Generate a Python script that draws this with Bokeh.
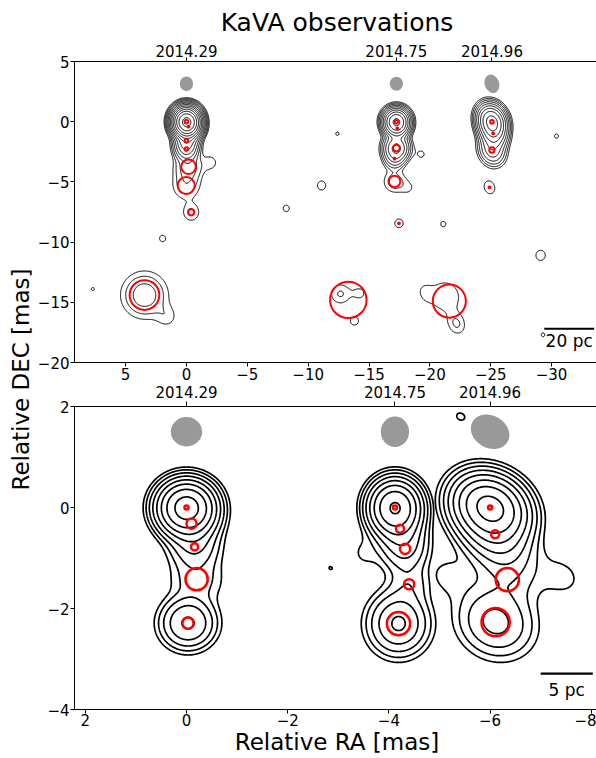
import numpy as np
from bokeh.plotting import figure
from bokeh.layouts import row, column
from bokeh.models import Range1d, FixedTicker, LinearAxis, Label
from bokeh.core.properties import value
from bokeh.embed import file_html
from bokeh.resources import INLINE

FONT = "DejaVu Sans"
epoch_labels = ["2014.29", "2014.75", "2014.96"]

# ---------------- top panel (wide field) ----------------
top_epoch_ra = [0.0, -17.25, -25.1]
top_beam_maj = [1.20, 1.15, 1.55]
top_beam_min = [1.10, 1.10, 1.20]
top_beam_pa = [0.0, 0.0, 20.0]
top_beam_dec = 3.15
top_level_step = 1.8

# model components (RA relative to epoch position), drawn as red circles
top_comp_epoch = [0, 0, 0, 0, 0, 0, 0, 0, 1, 1, 1, 1, 1, 1, 1, 2, 2, 2, 2, 2]
top_comp_ra = [0.00, -0.17, 0.00, 0.00, -0.17, 0.02, -0.39, 3.45,
               0.00, -0.08, 0.00, 0.15, 0.15, -0.21, 3.95,
               0.00, -0.10, 0.00, 0.20, 3.50]
top_comp_dec = [0.00, -0.41, -1.58, -2.27, -3.74, -5.30, -7.53, -14.40,
                0.00, -0.55, -2.19, -3.07, -4.96, -8.44, -14.80,
                0.00, -0.97, -2.35, -5.45, -14.90]
top_comp_amp = [1340, 200, 40, 20, 4.5, 2.6, 2.0, 4.5,
                215, 30, 40, 8, 2.6, 1.3, 0.02,
                141, 40, 15, 1.4, 0.02]
top_comp_size = [0.30, 0.15, 0.30, 0.30, 1.20, 1.40, 0.50, 2.44,
                 0.30, 0.15, 0.56, 0.15, 0.94, 0.15, 3.00,
                 0.30, 0.15, 0.44, 0.15, 2.72]

# additional (unmarked) emission
top_ext_epoch = [0, 0, 1, 1, 1, 1, 2, 2, 2]
top_ext_ra = [-2.0, 1.6, 4.6, 3.0, 3.45, -1.0, 3.8, 2.9, 5.5]
top_ext_dec = [-3.4, -16.2, -14.3, -14.25, -16.55, -5.5, -14.5, -16.8, -14.2]
top_ext_amp = [1.3, 1.3, 1.9, 1.2, 1.25, 1.0, 1.7, 1.9, 1.05]
top_ext_size = [0.5, 1.0, 1.0, 0.3, 0.3, 0.3, 2.0, 0.3, 0.2]

# isolated faint patches (absolute RA)
top_noise_ra = [1.96, -8.2, -11.1, -12.4, -19.3, -21.1, -29.1, -30.4, 7.7, -29.3]
top_noise_dec = [-9.7, -7.2, -5.3, -1.0, -2.7, -8.5, -11.1, -1.2, -13.9, -17.7]
top_noise_amp = [1.15, 1.15, 1.3, 1.04, 1.12, 1.1, 1.4, 1.06, 1.03, 1.05]

# ---------------- bottom panel (zoom) ----------------
bot_epoch_ra = [0.0, -4.12, -6.0]
bot_beam_maj = [0.62, 0.60, 0.80]
bot_beam_min = [0.58, 0.56, 0.64]
bot_beam_pa = [90.0, 0.0, 60.0]
bot_beam_dec = 1.5
bot_level_step = 2.0

bot_comp_epoch = [0, 0, 0, 0, 0, 1, 1, 1, 1, 1, 2, 2, 2, 2]
bot_comp_ra = [0.00, -0.10, -0.16, -0.20, -0.03,
               0.00, -0.10, -0.20, -0.28, -0.07,
               0.00, -0.10, -0.34, -0.11]
bot_comp_dec = [0.00, -0.32, -0.78, -1.42, -2.29,
                0.00, -0.42, -0.82, -1.52, -2.30,
                0.00, -0.53, -1.43, -2.27]
bot_comp_amp = [180, 14, 7, 3.0, 17.5,
                135, 15, 8, 3.0, 17.5,
                150, 20, 2.2, 9.6]
bot_comp_size = [0.08, 0.20, 0.14, 0.44, 0.22,
                 0.08, 0.16, 0.20, 0.20, 0.46,
                 0.08, 0.16, 0.46, 0.56]

bot_ext_epoch = [1, 2, 2, 2, 2]
bot_ext_ra = [0.6, 0.0, -0.3, 0.8, -1.4]
bot_ext_dec = [-0.9, -0.05, -0.95, -1.37, -1.37]
bot_ext_amp = [1.1, 20, 4.0, 1.3, 1.3]
bot_ext_size = [0.2, 0.5, 0.4, 0.3, 0.3]

bot_noise_ra = [-5.42, -2.85]
bot_noise_dec = [1.8, -1.2]
bot_noise_amp = [1.03, 1.005]

# scale bars
top_bar_ra = [-29.4, -33.5]
top_bar_dec = -17.2
top_bar_text = "20 pc"
bot_bar_ra = [-7.0, -8.03]
bot_bar_dec = -3.29
bot_bar_text = "5 pc"

LN = 8.0 * np.log(2.0)


def beam_cov(bmaj, bmin, pa):
    t = np.deg2rad(pa)
    u = np.array([np.sin(t), np.cos(t)])
    v = np.array([np.cos(t), -np.sin(t)])
    return (bmaj ** 2 * np.outer(u, u) + bmin ** 2 * np.outer(v, v)) / LN


def add_gauss(Z, X, Y, x0, y0, amp, size, cov):
    C = cov + (size ** 2 / LN) * np.eye(2)
    Ci = np.linalg.inv(C)
    dx = X - x0
    dy = Y - y0
    Z += amp * np.exp(-0.5 * (Ci[0, 0] * dx * dx + 2 * Ci[0, 1] * dx * dy + Ci[1, 1] * dy * dy))


def style_axis(ax, tick=4, standoff=1):
    ax.axis_line_color = "black"
    ax.axis_line_width = 1
    ax.major_tick_line_color = "black"
    ax.major_tick_out = tick
    ax.major_tick_in = 0
    ax.minor_tick_line_color = None
    ax.major_label_text_font = FONT
    ax.major_label_text_font_size = "15px"
    ax.major_label_text_color = "black"
    ax.major_label_standoff = standoff


def make_panel(xr, yr, fh, xticks, yticks, offsets, top_border, title=None):
    kw = dict(frame_width=525, frame_height=fh, x_range=Range1d(*xr), y_range=Range1d(*yr),
              toolbar_location=None, output_backend="svg", min_border_left=37,
              min_border_right=0, min_border_top=top_border, min_border_bottom=0,
              outline_line_color=None, background_fill_color="white")
    if title:
        kw["title"] = title
    p = figure(**kw)
    p.xgrid.visible = False
    p.ygrid.visible = False
    p.xaxis.ticker = FixedTicker(ticks=xticks)
    p.yaxis.ticker = FixedTicker(ticks=yticks)
    top = LinearAxis(ticker=FixedTicker(ticks=offsets),
                     major_label_overrides={o: l for o, l in zip(offsets, epoch_labels)})
    p.add_layout(top, "above")
    for ax in list(p.xaxis) + list(p.yaxis):
        style_axis(ax)
    return p, top


# ---------------- top panel ----------------
p1, p1_top = make_panel((9.2, -33.94), (-20, 5), 301, [5, 0, -5, -10, -15, -20, -25, -30],
                        [5, 0, -5, -10, -15, -20], top_epoch_ra, 61, title="KaVA observations")
p1.title.text_font = FONT
p1.title.text_font_size = "25px"
p1.title.text_font_style = "normal"
p1.title.text_color = "black"
p1.title.align = "center"
p1.below[0].major_label_text_line_height = 1.0

xg = np.arange(-34.5, 9.6, 0.05)
yg = np.arange(-20.5, 5.6, 0.05)
X, Y = np.meshgrid(xg, yg)
Z = np.zeros_like(X)
covs = [beam_cov(a, b, c) for a, b, c in zip(top_beam_maj, top_beam_min, top_beam_pa)]
for e, ra, de, am, sz in zip(top_comp_epoch, top_comp_ra, top_comp_dec, top_comp_amp, top_comp_size):
    add_gauss(Z, X, Y, top_epoch_ra[e] + ra, de, am, sz, covs[e])
for e, ra, de, am, sz in zip(top_ext_epoch, top_ext_ra, top_ext_dec, top_ext_amp, top_ext_size):
    add_gauss(Z, X, Y, top_epoch_ra[e] + ra, de, am, sz, covs[e])
for ra, de, am in zip(top_noise_ra, top_noise_dec, top_noise_amp):
    add_gauss(Z, X, Y, ra, de, am, 0.0, covs[0])
levels = [top_level_step ** n for n in range(0, 20) if top_level_step ** n < Z.max()]
p1.contour(x=xg, y=yg, z=Z, levels=levels, line_color="black", line_width=1.0)

p1.ellipse(x=top_epoch_ra, y=[top_beam_dec] * 3, width=top_beam_maj, height=top_beam_min,
           angle=[90 + a for a in top_beam_pa], angle_units="deg",
           fill_color="#999999", line_color=None)
p1.circle(x=[top_epoch_ra[e] + r for e, r in zip(top_comp_epoch, top_comp_ra)], y=top_comp_dec,
          radius=[s / 2 for s in top_comp_size], fill_color=None, line_color="red", line_width=2)
p1.line(x=top_bar_ra, y=[top_bar_dec] * 2, line_color="black", line_width=2)
p1.text(x=[sum(top_bar_ra) / 2], y=[top_bar_dec - 1.05], text=[top_bar_text],
        text_align="center", text_baseline="middle", text_font=value(FONT),
        text_font_size="17px", text_color="black")

# ---------------- bottom panel ----------------
p2, p2_top = make_panel((2.213, -8.162), (-4, 2), 303, [2, 0, -2, -4, -6, -8], [2, 0, -2, -4],
                        bot_epoch_ra, 0)
style_axis(p2_top, tick=5, standoff=4)
p2_top.major_label_text_line_height = 1.0
xlab_axis = p2.below[0]
style_axis(xlab_axis, tick=4, standoff=0)
xlab_axis.major_label_text_line_height = 1.0
xlab_axis.axis_label = "Relative RA [mas]"
xlab_axis.axis_label_text_font = FONT
xlab_axis.axis_label_text_font_size = "23px"
xlab_axis.axis_label_text_font_style = "normal"
xlab_axis.axis_label_text_color = "black"
xlab_axis.axis_label_text_line_height = 0.9
xlab_axis.axis_label_standoff = 0

bcovs = [beam_cov(a, b, c) for a, b, c in zip(bot_beam_maj, bot_beam_min, bot_beam_pa)]
for e in range(3):
    x0 = bot_epoch_ra[e]
    bx = np.arange(x0 - 2.2, x0 + 2.2, 0.012)
    by = np.arange(-4.1, 2.1, 0.012)
    BX, BY = np.meshgrid(bx, by)
    BZ = np.zeros_like(BX)
    for ee, ra, de, am, sz in zip(bot_comp_epoch, bot_comp_ra, bot_comp_dec, bot_comp_amp, bot_comp_size):
        if ee == e:
            add_gauss(BZ, BX, BY, x0 + ra, de, am, sz, bcovs[e])
    for ee, ra, de, am, sz in zip(bot_ext_epoch, bot_ext_ra, bot_ext_dec, bot_ext_amp, bot_ext_size):
        if ee == e:
            add_gauss(BZ, BX, BY, x0 + ra, de, am, sz, bcovs[e])
    blev = [bot_level_step ** n for n in range(0, 12) if bot_level_step ** n < BZ.max()]
    p2.contour(x=bx, y=by, z=BZ, levels=blev, line_color="black", line_width=1.7)

nx = np.arange(-8.2, 2.25, 0.012)
ny = np.arange(-4.1, 2.1, 0.012)
NX, NY = np.meshgrid(nx, ny)
NZ = np.zeros_like(NX)
for ra, de, am in zip(bot_noise_ra, bot_noise_dec, bot_noise_amp):
    add_gauss(NZ, NX, NY, ra, de, am, 0.0, bcovs[2])
p2.contour(x=nx, y=ny, z=NZ, levels=[1.0], line_color="black", line_width=1.7)

p2.ellipse(x=bot_epoch_ra, y=[bot_beam_dec] * 3, width=bot_beam_maj, height=bot_beam_min,
           angle=[90 + a for a in bot_beam_pa], angle_units="deg",
           fill_color="#999999", line_color=None)
p2.circle(x=[bot_epoch_ra[e] + r for e, r in zip(bot_comp_epoch, bot_comp_ra)], y=bot_comp_dec,
          radius=[s / 2 for s in bot_comp_size], fill_color=None, line_color="red", line_width=2.5)
p2.line(x=bot_bar_ra, y=[bot_bar_dec] * 2, line_color="black", line_width=2.2)
p2.text(x=[sum(bot_bar_ra) / 2], y=[bot_bar_dec - 0.33], text=[bot_bar_text],
        text_align="center", text_baseline="middle", text_font=value(FONT),
        text_font_size="17px", text_color="black")

# ---------------- shared y label ----------------
lab = figure(width=34, height=758, x_range=Range1d(0, 34), y_range=Range1d(0, 758),
             toolbar_location=None, output_backend="svg", x_axis_location=None,
             y_axis_location=None, min_border=0, outline_line_color=None)
lab.grid.visible = False
lab.add_layout(Label(x=20, y=379, text="Relative DEC [mas]", angle=np.pi / 2,
                     text_align="center", text_baseline="middle", text_font=FONT,
                     text_font_size="23px", text_color="black"))

layout = row(lab, column(p1, p2))
open("out.html", "w").write(file_html(layout, INLINE))
